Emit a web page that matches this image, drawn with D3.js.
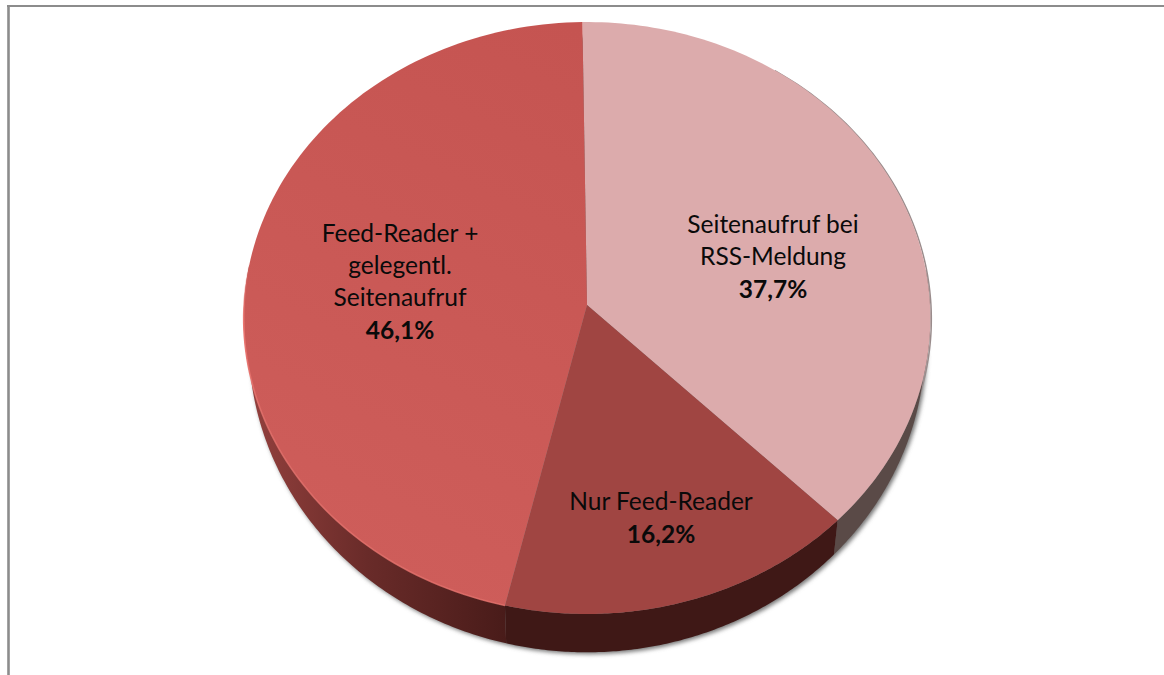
<!DOCTYPE html>
<html>
<head>
<meta charset="utf-8">
<script src="https://cdn.jsdelivr.net/npm/d3@7"></script>
<style>
    html, body { margin: 0; padding: 0; background: #fff; }
    text { font-family: Lato, "Open Sans", sans-serif; fill: #0a0a0a; text-anchor: middle; }
</style>
</head>
<body>
<script>
const categories = ['Seitenaufruf bei RSS-Meldung', 'Nur Feed-Reader', 'Feed-Reader + gelegentl. Seitenaufruf'];
const values = [37.7, 16.2, 46.1];
const valueLabels = ['37,7%', '16,2%', '46,1%'];
const labelLines = [['Seitenaufruf bei', 'RSS-Meldung'], ['Nur Feed-Reader'], ['Feed-Reader +', 'gelegentl.', 'Seitenaufruf']];
const topColors = ['#dcabac', '#a04542', 'url(#topRed)'];
const wallColors = ['#5a4a47', '#3f1816', 'url(#wallRed)'];

const width = 1164,
    height = 675;

// pie apex and the tilted disc seen in perspective
const cx = 587,
    cy = 305,
    radiusX = 343,
    radiusY = 295.4,
    perspective = 0.044,
    rotation = -0.014;

const svg = d3.select('body').append('svg')
    .attr('width', width)
    .attr('height', height)
    .style('display', 'block');

const defs = svg.append('defs');

function addGradient(id, x1, y1, x2, y2, stops) {
    const g = defs.append('linearGradient').attr('id', id)
        .attr('gradientUnits', 'userSpaceOnUse')
        .attr('x1', x1).attr('y1', y1).attr('x2', x2).attr('y2', y2);
    stops.forEach(function(s) {
        g.append('stop').attr('offset', s[0]).attr('stop-color', s[1]).attr('stop-opacity', s[2] === undefined ? 1 : s[2]);
    });
}
addGradient('topRed', 580, 30, 300, 600, [[0, '#c55451'], [1, '#cf5e5b']]);
addGradient('wallRed', 250, 0, 510, 0, [[0, '#93403d'], [0.45, '#692b29'], [1, '#481b19']]);
addGradient('rimLight', 0, 260, 0, 420, [[0, '#ea7570', 0], [0.4, '#ea7570', 1], [1, '#e5706b', 0.8]]);

defs.append('filter').attr('id', 'soft')
    .attr('x', '-5%').attr('y', '-5%').attr('width', '110%').attr('height', '110%')
    .append('feGaussianBlur').attr('stdDeviation', 2);

// top face point for a pie angle
function topPoint(a) {
    const x = Math.sin(a),
        y = Math.cos(a),
        w = 1 + perspective * y;
    return [cx + radiusX * x / w, cy - radiusY * y / w];
}

// lower rim: slightly narrower, and deeper toward the viewer
function lowerPoint(a) {
    const p = topPoint(a);
    return [cx + (p[0] - cx) * 0.985, cy + 25 + (p[1] - cy) * 1.043];
}

function anglesBetween(a0, a1) {
    return d3.range(0, 121).map(function(i) { return a0 + (a1 - a0) * i / 120; });
}

const line = d3.line();
const arcs = d3.pie().sort(null)
    .startAngle(rotation)
    .endAngle(rotation + 2 * Math.PI)(values);

// frame
svg.append('path')
    .attr('d', line([[8.5, height], [8.5, 6]]))
    .attr('fill', 'none')
    .attr('stroke', '#8c8c8c')
    .attr('stroke-width', 2.6);
svg.append('path')
    .attr('d', line([[7, 6], [width, 6]]))
    .attr('fill', 'none')
    .attr('stroke', '#8c8c8c')
    .attr('stroke-width', 2);

// soft shadow under the disc
svg.append('path')
    .attr('d', line(anglesBetween(0, 2 * Math.PI).map(lowerPoint)) + 'Z')
    .attr('transform', 'translate(2,2)')
    .attr('fill', '#777')
    .attr('filter', 'url(#soft)');

// faint shadow of the top face, shows along the right edge
svg.append('path')
    .attr('d', line(anglesBetween(0.6, 2.6).map(topPoint)))
    .attr('transform', 'translate(1,1)')
    .attr('fill', 'none')
    .attr('stroke', '#9a8c8c')
    .attr('stroke-width', 1.5);

// walls, only the part facing the viewer so no dark fringe shows at the back
svg.selectAll('.wall')
    .data(arcs)
    .enter().append('path')
    .attr('class', 'wall')
    .attr('fill', function(d, i) { return wallColors[i]; })
    .attr('d', function(d) {
        const angles = anglesBetween(Math.max(d.startAngle, 1.45), Math.min(d.endAngle, 4.85));
        return line(angles.map(topPoint).concat(angles.reverse().map(lowerPoint))) + 'Z';
    });

// top faces
svg.selectAll('.slice')
    .data(arcs)
    .enter().append('path')
    .attr('class', 'slice')
    .attr('fill', function(d, i) { return topColors[i]; })
    .attr('d', function(d) {
        return line([[cx, cy]].concat(anglesBetween(d.startAngle, d.endAngle).map(topPoint))) + 'Z';
    });

// light edge on the big slice
svg.append('path')
    .attr('d', line(anglesBetween(arcs[2].startAngle, arcs[2].endAngle).map(topPoint)))
    .attr('fill', 'none')
    .attr('stroke', 'url(#rimLight)')
    .attr('stroke-width', 1.6);

// labels, baseline of the first line per slice
const labelX = [773, 661, 400];
const labelY = [233, 510, 242];
const lineHeight = 32;

categories.forEach(function(c, i) {
    const g = svg.append('g').attr('transform', 'translate(' + labelX[i] + ',' + labelY[i] + ')');
    labelLines[i].forEach(function(t, j) {
        g.append('text').attr('y', j * lineHeight).attr('font-size', 24.5).text(t);
    });
    g.append('text')
        .attr('y', labelLines[i].length * lineHeight + 1)
        .attr('font-size', 24.5)
        .attr('font-weight', 700)
        .text(valueLabels[i]);
});
</script>
</body>
</html>
